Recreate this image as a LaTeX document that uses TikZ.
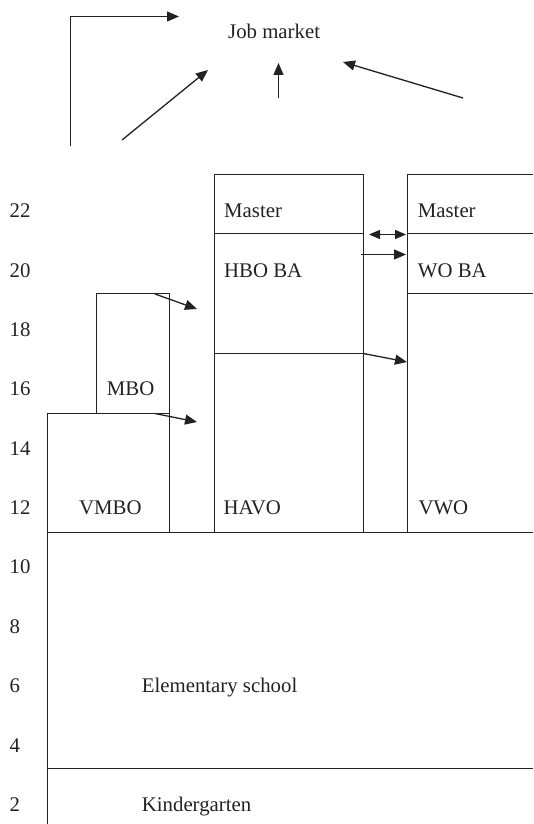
\documentclass[tikz,border=0pt]{standalone}
\usepackage{fontspec}
\setmainfont{Liberation Serif}
\usetikzlibrary{arrows.meta}
\definecolor{ink}{HTML}{222222}
\tikzset{
  lbl/.style={anchor=base west, inner sep=0pt, text=ink, font=\fontsize{20.8}{24}\selectfont},
  ln/.style={draw=ink, line width=1.3pt},
  arr/.style={draw=ink, line width=1.3pt, -{Triangle[length=12pt,width=10pt]}},
  darr/.style={draw=ink, line width=1.3pt, {Triangle[length=11pt,width=9pt]}-{Triangle[length=11pt,width=9pt]}}
}
\begin{document}
\begin{tikzpicture}[x=1pt,y=-1pt]
\useasboundingbox (0,0) rectangle (533,824);
% axis numbers
\foreach \n/\yy in {22/217,20/277.7,18/336.7,16/395.7,14/455,12/514.3,10/573.7,8/633,6/692.5,4/752,2/811.7}
  \node[lbl] (num\n) at (9.5,\yy) {\n};
% shapes
\draw[ln] (47.5,824) -- (47.5,413.5);
\draw[ln] (47.5,532.5) -- (533,532.5);
\draw[ln] (47.5,768.5) -- (533,768.5);
\draw[ln] (47.5,413.5) rectangle (169.5,532.5);
\draw[ln] (96.5,293.5) rectangle (169.5,413.5);
\draw[ln] (214.5,174.5) rectangle (363.5,532.5);
\draw[ln] (214.5,233.5) -- (363.5,233.5);
\draw[ln] (214.5,353.5) -- (363.5,353.5);
\draw[ln] (533,174.5) -- (407.5,174.5) -- (407.5,532.5);
\draw[ln] (407.5,233.5) -- (533,233.5);
\draw[ln] (407.5,293.5) -- (533,293.5);
% labels
\node[lbl] (job) at (228,39) {Job market};
\node[lbl] (m1) at (224,217) {Master};
\node[lbl] (hbo) at (224,277.7) {HBO BA};
\node[lbl] (m2) at (417.7,217) {Master};
\node[lbl] (wo) at (417.7,277.7) {WO BA};
\node[lbl] (mbo) at (106.7,395.7) {MBO};
\node[lbl] (vmbo) at (79,514.3) {VMBO};
\node[lbl] (havo) at (223.3,514.3) {HAVO};
\node[lbl] (vwo) at (418.3,514.3) {VWO};
\node[lbl] (elem) at (141.7,692.5) {Elementary school};
\node[lbl] (kind) at (141.7,811.7) {Kindergarten};
% arrow coordinates
\coordinate (a1s) at (70.5,146);
\coordinate (a1c) at (70.5,16.5);
\coordinate (a1e) at (179,16.5);
\coordinate (a2s) at (122,140);
\coordinate (a2e) at (208,70);
\coordinate (a3s) at (278.5,98);
\coordinate (a3e) at (278.5,63);
\coordinate (a4s) at (463,98);
\coordinate (a4e) at (343,62);
\coordinate (d1s) at (369,234.5);
\coordinate (d1e) at (406,234.5);
\coordinate (h1s) at (361,254.5);
\coordinate (h1e) at (406,254.5);
\coordinate (b1s) at (155,294);
\coordinate (b1e) at (197,309);
\coordinate (b2s) at (363.5,353.5);
\coordinate (b2e) at (407,362);
\coordinate (b3s) at (155,413.5);
\coordinate (b3e) at (197,422);
% arrows
\draw[arr] (a1s) -- (a1c) -- (a1e);
\draw[arr] (a2s) -- (a2e);
\draw[arr] (a3s) -- (a3e);
\draw[arr] (a4s) -- (a4e);
\draw[darr] (d1s) -- (d1e);
\draw[arr] (h1s) -- (h1e);
\draw[arr] (b1s) -- (b1e);
\draw[arr] (b2s) -- (b2e);
\draw[arr] (b3s) -- (b3e);
\end{tikzpicture}
\end{document}
